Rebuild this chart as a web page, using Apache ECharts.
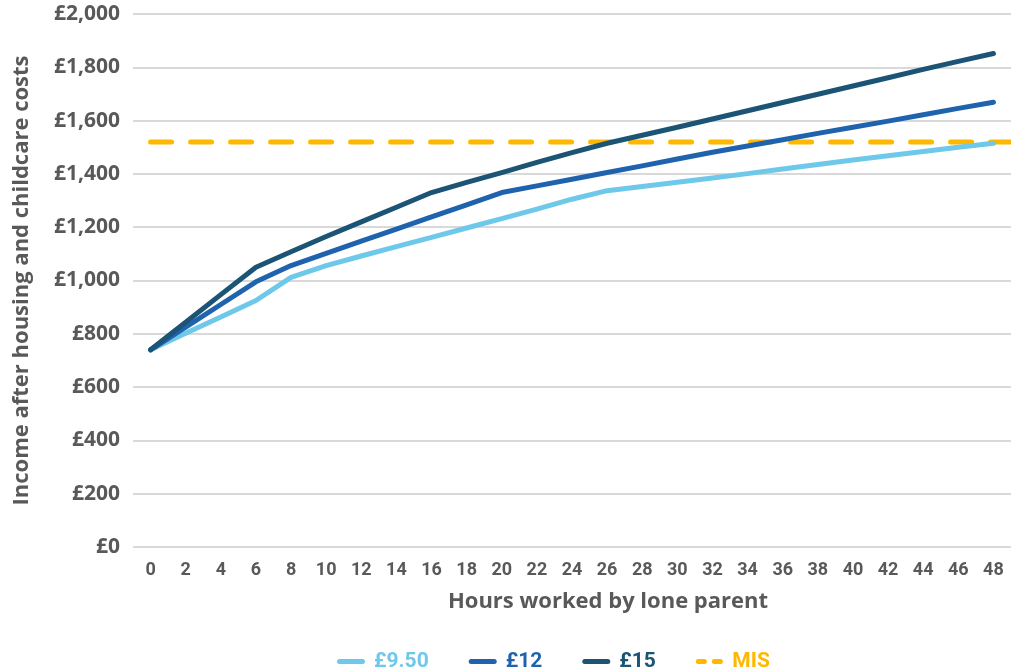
<!DOCTYPE html>
<html>
<head>
<meta charset="utf-8">
<script src="https://cdn.jsdelivr.net/npm/echarts@6/dist/echarts.min.js"></script>
<style>
  html, body { margin: 0; padding: 0; background: #fff; }
  #chart { width: 1011px; height: 671px; }
</style>
</head>
<body>
<div id="chart"></div>
<script>
// hours worked (x categories)
var hours = ['0', '2', '4', '6', '8', '10', '12', '14', '16', '18', '20', '22', '24',
  '26', '28', '30', '32', '34', '36', '38', '40', '42', '44', '46', '48'];

// income after housing and childcare costs, by hourly wage
var wage950 = [740, 802, 863, 925, 1012, 1056, 1092, 1127, 1162, 1197, 1232, 1268, 1305,
  1337, 1353, 1369, 1385, 1401, 1418, 1435, 1452, 1468, 1484, 1500, 1515];
var wage12 = [740, 825, 910, 995, 1056, 1102, 1148, 1193, 1239, 1284, 1330, 1355, 1380,
  1405, 1430, 1456, 1481, 1505, 1528, 1552, 1575, 1598, 1622, 1646, 1669];
var wage15 = [740, 843, 947, 1050, 1108, 1165, 1220, 1275, 1330, 1368, 1405, 1443, 1480,
  1515, 1545, 1575, 1606, 1637, 1668, 1699, 1730, 1761, 1792, 1822, 1852];

// minimum income standard, flat across the hours range
var misHours = [0, 49];
var misValue = [1520, 1520];

var seriesNames = ['£9.50', '£12', '£15', 'MIS'];
var seriesColors = ['#6ec8ea', '#1f63ae', '#1b5475', '#ffb800'];

var textColor = '#595959';
var wideFont = '"Open Sans", Roboto, sans-serif';
var narrowFont = 'Roboto, "Noto Sans", sans-serif';

// legend icons: a rounded bar, and two short dashes for MIS
var solidIcon = 'path://M2.5,0 h23 a2.5,2.5 0 0 1 0,5 h-23 a2.5,2.5 0 0 1 0,-5 z';
var dashIcon = 'path://M2.5,0 h6 a2.5,2.5 0 0 1 0,5 h-6 a2.5,2.5 0 0 1 0,-5 z ' +
  'M18.5,0 h6 a2.5,2.5 0 0 1 0,5 h-6 a2.5,2.5 0 0 1 0,-5 z';

function money(v) {
  return '£' + String(v).replace(/\B(?=(\d{3})+(?!\d))/g, ',');
}

function lineSeries(idx, data) {
  return {
    name: seriesNames[idx],
    type: 'line',
    data: data,
    showSymbol: false,
    symbol: 'none',
    lineStyle: { color: seriesColors[idx], width: 5, cap: 'round', join: 'round' },
    itemStyle: { color: seriesColors[idx] }
  };
}

var misData = misHours.map(function(h, i) { return [h, misValue[i]]; });

var chart = echarts.init(document.getElementById('chart'));
chart.setOption({
  animation: false,
  textStyle: { fontFamily: narrowFont },
  grid: { left: 133, right: 0, top: 14, bottom: 124 },
  legend: {
    top: 646,
    left: 332,
    itemWidth: 28,
    itemHeight: 5,
    itemGap: 40,
    data: seriesNames.map(function(n, i) {
      return {
        name: n,
        icon: i === 3 ? dashIcon : solidIcon,
        itemStyle: { color: seriesColors[i] },
        textStyle: { color: seriesColors[i] }
      };
    }),
    textStyle: { fontSize: 21, fontWeight: 'bold', fontFamily: narrowFont, padding: [0, 0, 0, 4] }
  },
  xAxis: [{
    type: 'category',
    data: hours,
    boundaryGap: true,
    name: 'Hours worked by lone parent',
    nameLocation: 'middle',
    nameGap: 44,
    nameTextStyle: {
      color: textColor, fontSize: 22, fontWeight: 'bold', fontFamily: wideFont,
      padding: [0, 0, 0, 72]
    },
    axisLine: { show: false },
    axisTick: { show: false },
    axisLabel: { color: textColor, fontSize: 18, fontWeight: 'bold', margin: 14, interval: 0 }
  }, {
    type: 'value',
    min: -1,
    max: 49,
    show: false
  }],
  yAxis: {
    type: 'value',
    min: 0,
    max: 2000,
    interval: 200,
    name: 'Income after housing and childcare costs',
    nameLocation: 'middle',
    nameGap: 100,
    nameTextStyle: { color: textColor, fontSize: 22, fontWeight: 'bold', fontFamily: wideFont },
    axisLine: { show: false },
    axisTick: { show: false },
    axisLabel: {
      color: textColor, fontSize: 21, fontWeight: 'bold', fontFamily: wideFont,
      margin: 13, formatter: money
    },
    splitLine: { lineStyle: { color: '#d9d9d9', width: 2 } }
  },
  series: [
    lineSeries(0, wage950),
    lineSeries(1, wage12),
    lineSeries(2, wage15),
    {
      name: 'MIS',
      type: 'line',
      xAxisIndex: 1,
      data: misData,
      showSymbol: false,
      symbol: 'none',
      z: 1,
      lineStyle: { color: seriesColors[3], width: 5, type: [21, 19], cap: 'round' },
      itemStyle: { color: seriesColors[3] }
    }
  ]
});
</script>
</body>
</html>
